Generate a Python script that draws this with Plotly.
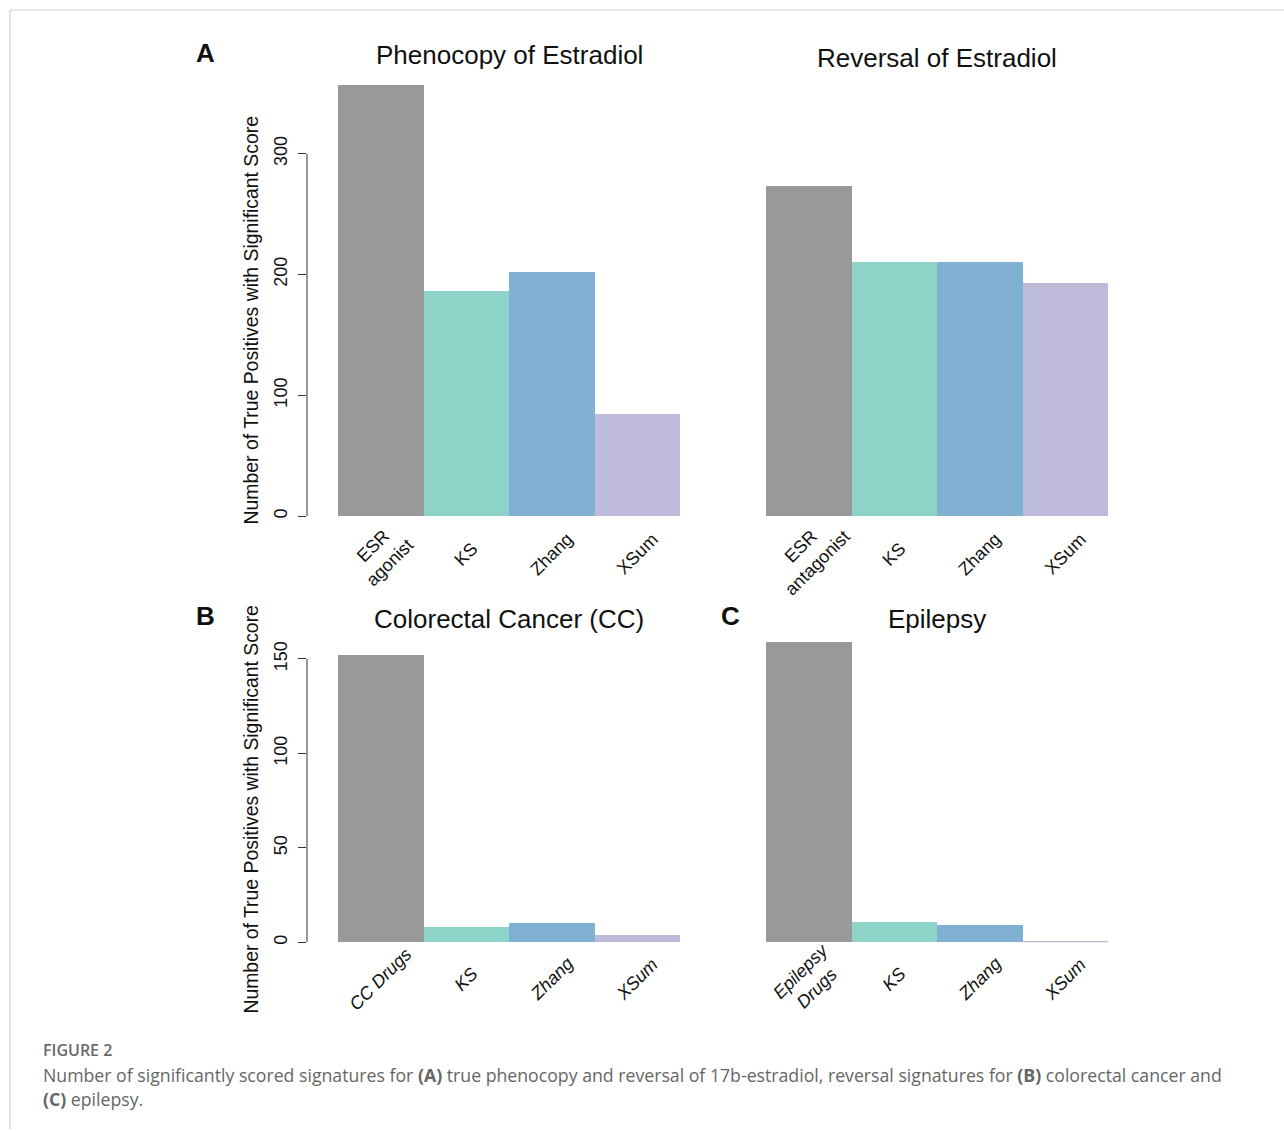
import plotly.graph_objects as go

W, H = 1284, 1131

# ---- data ----
cats_a1 = ["ESR<br>agonist", "KS", "Zhang", "XSum"]
vals_a1 = [357, 186, 202, 84]
cats_a2 = ["ESR<br>antagonist", "KS", "Zhang", "XSum"]
vals_a2 = [273, 210, 210, 193]
cats_b = ["CC Drugs", "KS", "Zhang", "XSum"]
vals_b = [152, 8, 10, 4]
cats_c = ["Epilepsy<br>Drugs", "KS", "Zhang", "XSum"]
vals_c = [159, 11, 9, 1]
bar_colors = ["#999999", "#8DD3C7", "#80B1D3", "#BEBADA"]
yticks_top = [0, 100, 200, 300]
yticks_bot = [0, 50, 100, 150]

titles = ["Phenocopy of Estradiol", "Reversal of Estradiol", "Colorectal Cancer (CC)", "Epilepsy"]
ytitle = "Number of True Positives with Significant Score"

def px(x):
    return x / W

def py(y):
    return 1 - y / H

FONT = "Liberation Sans, Arial, Helvetica, sans-serif"

fig = go.Figure()

panels = [
    (cats_a1, vals_a1, "x", "y", False, 555),
    (cats_a2, vals_a2, "x2", "y2", False, 555),
    (cats_b, vals_b, "x3", "y3", True, 981),
    (cats_c, vals_c, "x4", "y4", True, 981),
]
ann = []
for cats, vals, xa, ya, italic, laby in panels:
    xs = list(range(len(cats)))
    fig.add_trace(go.Bar(
        x=xs, y=vals, xaxis=xa, yaxis=ya,
        width=1.0, marker=dict(color=bar_colors, line=dict(width=0)),
        showlegend=False, hoverinfo="y",
    ))
    for xi, c in zip(xs, cats):
        txt = "<br>".join(("<i>%s</i>" % s) if italic else s for s in c.split("<br>"))
        ann.append(dict(text=txt, x=xi, y=py(laby), xref=xa, yref="paper", showarrow=False,
                        textangle=-45, xanchor="center", yanchor="middle", align="center",
                        font=dict(size=18, color="#111", family=FONT)))

xdom_l = [px(307), px(680)]
xdom_r = [px(735), px(1108)]
ydom_t = [py(517), py(517 - 360 * 1.21)]
ydom_b = [py(944), py(944 - 160 * 1.8933)]
xrange_ = [-0.5 - 31 / 85.5, 3.5]

def xax(dom, anchor):
    return dict(domain=dom, anchor=anchor, range=xrange_, showline=False, showgrid=False,
                zeroline=False, ticks="", showticklabels=False, fixedrange=True)

def yax(dom, anchor, rng, tv, visible):
    d = dict(domain=dom, anchor=anchor, range=rng, showgrid=False, zeroline=False,
             showline=False, fixedrange=True)
    if visible:
        d.update(ticks="outside", ticklen=8, tickwidth=1, tickcolor="#333",
                 tickmode="array", tickvals=tv, tickangle=-90,
                 tickfont=dict(size=18, color="#111", family=FONT), ticklabelstandoff=4)
    else:
        d.update(visible=False)
    return d

fig.update_layout(
    width=W, height=H, margin=dict(l=0, r=0, t=0, b=0),
    paper_bgcolor="white", plot_bgcolor="white", bargap=0,
    font=dict(family=FONT, color="#111"),
    xaxis=xax(xdom_l, "y"),
    yaxis=yax(ydom_t, "x", [0, 360], yticks_top, True),
    xaxis2=xax(xdom_r, "y2"),
    yaxis2=yax(ydom_t, "x2", [0, 360], yticks_top, False),
    xaxis3=xax(xdom_l, "y3"),
    yaxis3=yax(ydom_b, "x3", [0, 160], yticks_bot, True),
    xaxis4=xax(xdom_r, "y4"),
    yaxis4=yax(ydom_b, "x4", [0, 160], yticks_bot, False),
)

shapes = [
    dict(type="line", xref="paper", yref="y", x0=px(307), x1=px(307), y0=0, y1=300,
         line=dict(color="#333", width=1)),
    dict(type="line", xref="paper", yref="y3", x0=px(307), x1=px(307), y0=0, y1=150,
         line=dict(color="#333", width=1)),
    # frame
    dict(type="line", xref="paper", yref="paper", x0=px(10), x1=1, y0=py(10), y1=py(10),
         line=dict(color="#d0d0d0", width=1.2)),
    dict(type="line", xref="paper", yref="paper", x0=px(10), x1=px(10), y0=py(10), y1=0,
         line=dict(color="#d0d0d0", width=1.2)),
]
fig.update_layout(shapes=shapes)

title_pos = [(509, 55), (937, 58), (509, 620), (937, 620)]
for t, (x, y) in zip(titles, title_pos):
    ann.append(dict(text=t, x=px(x), y=py(y), xref="paper", yref="paper", showarrow=False,
                    xanchor="center", yanchor="middle", font=dict(size=26, color="#111", family=FONT)))
for t, (x, y) in zip(["A", "B", "C"], [(205, 53), (205, 617), (730, 617)]):
    ann.append(dict(text="<b>%s</b>" % t, x=px(x), y=py(y), xref="paper", yref="paper", showarrow=False,
                    xanchor="center", yanchor="middle", font=dict(size=26, color="#111", family=FONT)))
for y in [321, 811]:
    ann.append(dict(text=ytitle, x=px(251), y=py(y), xref="paper", yref="paper", showarrow=False,
                    textangle=-90, xanchor="center", yanchor="middle",
                    font=dict(size=19.4, color="#111", family=FONT)))

CAPF = "Open Sans, Noto Sans, sans-serif"
ann.append(dict(text="FIGURE 2", x=px(41), y=py(1052), xref="paper", yref="paper", showarrow=False,
                xanchor="left", yanchor="middle", font=dict(size=16, color="#6a6a6a", family=CAPF, weight=600)))
ann.append(dict(text="Number of significantly scored signatures for <b>(A)</b> true phenocopy and reversal of 17b-estradiol, reversal signatures for <b>(B)</b> colorectal cancer and",
                x=px(41), y=py(1077), xref="paper", yref="paper", showarrow=False,
                xanchor="left", yanchor="middle", font=dict(size=17.7, color="#666", family=CAPF)))
ann.append(dict(text="<b>(C)</b> epilepsy.",
                x=px(41), y=py(1101), xref="paper", yref="paper", showarrow=False,
                xanchor="left", yanchor="middle", font=dict(size=17.7, color="#666", family=CAPF)))
fig.update_layout(annotations=ann)

fig.write_html("out.html", config={"displayModeBar": False},
               post_script="document.body.style.margin='0';")
